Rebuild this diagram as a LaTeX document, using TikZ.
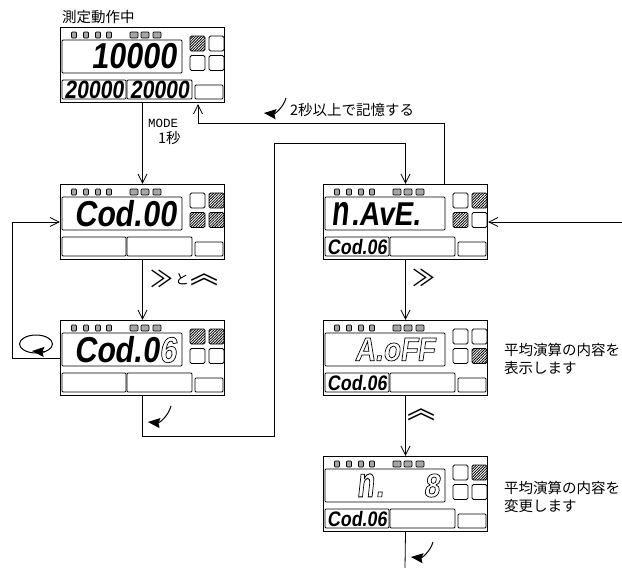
\documentclass[tikz,border=0pt]{standalone}
\usepackage{fontspec}
\setmainfont{Noto Sans CJK JP}
\newfontfamily\lcdfont{Liberation Sans}[FakeSlant=0.14,FakeStretch=0.85]
\newfontfamily\modefont{Liberation Mono}
\usepackage{tikz}
\usetikzlibrary{arrows.meta, patterns.meta, shapes.geometric}
\newcommand{\hollow}[1]{\special{pdf:code q 1 Tr 0.7 w}#1\special{pdf:code Q}}
\newcommand{\tallN}{\scalebox{1}[1.3]{n}\kern2pt}

\tikzset{
    panelbox/.style={draw, line width=1.3pt, minimum width=164pt, minimum height=75pt, inner sep=0pt},
    lcdbox/.style={draw, line width=0.8pt, rounded corners=1pt, inner sep=0pt},
    lamp/.style={draw, line width=0.8pt, rounded corners=1.5pt, minimum size=15pt, inner sep=0pt},
    hatchlamp/.style={lamp, pattern={Lines[angle=45, distance=1.9pt, line width=0.8pt]}},
    tagbox/.style={draw, line width=0.7pt, fill=black!35, rounded corners=0.8pt, minimum height=6pt, inner sep=0pt},
    lcdbig/.style={font=\lcdfont\bfseries\fontsize{36}{36}\selectfont, inner sep=0pt, anchor=east},
    lcdmid/.style={lcdbig, font=\lcdfont\bfseries\fontsize{33}{33}\selectfont},
    lcdsmall/.style={font=\lcdfont\bfseries\fontsize{21}{21}\selectfont, inner sep=0pt},
    lcdwide/.style={font=\lcdfont\bfseries\fontsize{25}{25}\selectfont, inner sep=0pt},
    jplabel/.style={font=\fontsize{14.5}{18.5}\selectfont, inner sep=0pt, anchor=west, align=left},
    bigkey/.style={inner sep=0pt, font=\fontsize{23}{23}\selectfont},
    upkey/.style={inner sep=0pt, font=\fontsize{28}{28}\selectfont},
    flow/.style={line width=0.8pt, -{Straight Barb[length=9pt, width=9pt]}},
    wire/.style={line width=0.8pt},
    turnarrow/.style={line width=1pt, -{Stealth[length=12pt, width=10pt, inset=1.5pt]}}
}

\newcommand{\meter}[7]{
    \begin{scope}[shift={(#2,#3)}]
        \node[panelbox] (#1) at (82.5,38) {};
        \foreach \tagx in {14,26,38,49}
            \node[tagbox, minimum width=5pt] (#1-t\tagx) at (\tagx,8) {};
        \foreach \tagx in {74,85,97}
            \node[tagbox, minimum width=8pt] (#1-t\tagx) at (\tagx,8) {};
        \node[lcdbox, minimum width=120pt, minimum height=33pt] (#1-main) at (62,29.5) {};
        \node[lcdbox, minimum width=64pt, minimum height=19pt] (#1-left) at (34,62.5) {};
        \node[lcdbox, minimum width=65pt, minimum height=19pt] (#1-right) at (99.5,62.5) {};
        \node[lcdbox, minimum width=28pt, minimum height=14pt] (#1-key) at (149,65) {};
        \node[#4] (#1-a) at (137.5,16.5) {};
        \node[#5] (#1-b) at (156.5,16.5) {};
        \node[#6] (#1-c) at (137.5,36) {};
        \node[#7] (#1-d) at (156.5,36) {};
    \end{scope}
}

\begin{document}
\begin{tikzpicture}[x=1pt, y=-1pt]
    \useasboundingbox (0,0) rectangle (622,568);

    \meter{run}{60}{27}{hatchlamp}{lamp}{lamp}{lamp}
    \meter{cod00}{60}{184}{lamp}{hatchlamp}{hatchlamp}{hatchlamp}
    \meter{cod06}{60}{320}{hatchlamp}{hatchlamp}{lamp}{lamp}
    \meter{mave}{323}{184}{lamp}{hatchlamp}{hatchlamp}{lamp}
    \meter{aoff}{323}{320}{lamp}{lamp}{lamp}{hatchlamp}
    \meter{nset}{323}{456}{lamp}{hatchlamp}{lamp}{lamp}

    \node[lcdbig] (runval) at ([xshift=-6pt]run-main.east) {10000};
    \node[lcdwide] (runleft) at (run-left) {20000};
    \node[lcdwide] (runright) at (run-right) {20000};
    \node[lcdbig] (cod00val) at ([xshift=-6pt]cod00-main.east) {Cod.00};
    \node[lcdbig] (cod06val) at ([xshift=-6pt]cod06-main.east) {Cod.0\hollow{6}};
    \node[lcdmid] (maveval) at ([xshift=-25pt]mave-main.east) {\tallN.AvE.};
    \node[lcdmid] (aoffval) at ([xshift=-11pt]aoff-main.east) {\hollow{A.oFF}};
    \node[lcdmid] (nsetval) at ([xshift=-6pt]nset-main.east) {\hollow{\tallN.\hspace{40pt}8}};
    \node[lcdsmall] (maveleft) at (mave-left) {Cod.06};
    \node[lcdsmall] (aoffleft) at (aoff-left) {Cod.06};
    \node[lcdsmall] (nsetleft) at (nset-left) {Cod.06};

    \node[jplabel] (runcap) at (62,17) {測定動作中};
    \node[jplabel, font=\modefont\fontsize{12.5}{13}\selectfont] (modecap) at (148,123) {MODE};
    \node[jplabel] (secondcap) at (158,138) {1秒};
    \node[jplabel] (savecap) at (290,110) {2秒以上で記憶する};
    \node[jplabel] (aoffcap) at (504,359) {平均演算の内容を\\表示します};
    \node[jplabel] (nsetcap) at (504,497) {平均演算の内容を\\変更します};

    \node[bigkey] (keysa) at (162,279) {≫};
    \node[inner sep=0pt, font=\fontsize{14}{14}\selectfont] (keysand) at (182,279) {と};
    \node[upkey] (keysb) at (204,280) {︽};
    \node[bigkey] (keysc) at (424,278) {≫};
    \node[upkey] (keysd) at (421,415) {︽};

    \coordinate (maveout) at (444,184);
    \coordinate (saveturn) at (198,123);
    \coordinate (runin) at (198,104);
    \coordinate (backleft) at (274,436);
    \coordinate (backtop) at (274,143);
    \coordinate (loopside) at (12,358);
    \coordinate (moreright) at (622,222);
    \coordinate (chainend) at (405,568);

    \draw[flow] (run.south) -- (cod00.north);
    \draw[flow] (maveout) |- (saveturn) -- (runin);
    \draw[flow] (cod00.south) -- (cod06.north);
    \draw[flow] (cod06.west) -- (loopside) |- (cod00.west);
    \draw[flow] (cod06.south) |- (backleft) -- (backtop) -| (mave.north);
    \draw[flow] (moreright) -- (mave.east);
    \draw[flow] (mave.south) -- (aoff.north);
    \draw[flow] (aoff.south) -- (nset.north);
    \draw[wire] (nset.south) -- (chainend);

    \node[ellipse, draw, line width=1pt, minimum width=33pt, minimum height=18pt, inner sep=0pt] (loopmark) at (36,344) {};
    \coordinate (loopa) at (45,352);
    \coordinate (loopb) at (32,351);
    \draw[turnarrow] (loopa) -- (loopb);

    \coordinate (savea) at (286,98);
    \coordinate (saveb) at (264,113);
    \draw[turnarrow] (savea) to[bend left=40] (saveb);
    \coordinate (nexta) at (171,406);
    \coordinate (nextb) at (148,422);
    \draw[turnarrow] (nexta) to[bend left=40] (nextb);
    \coordinate (enda) at (433,542);
    \coordinate (endb) at (411,557);
    \draw[turnarrow] (enda) to[bend left=40] (endb);
\end{tikzpicture}
\end{document}
